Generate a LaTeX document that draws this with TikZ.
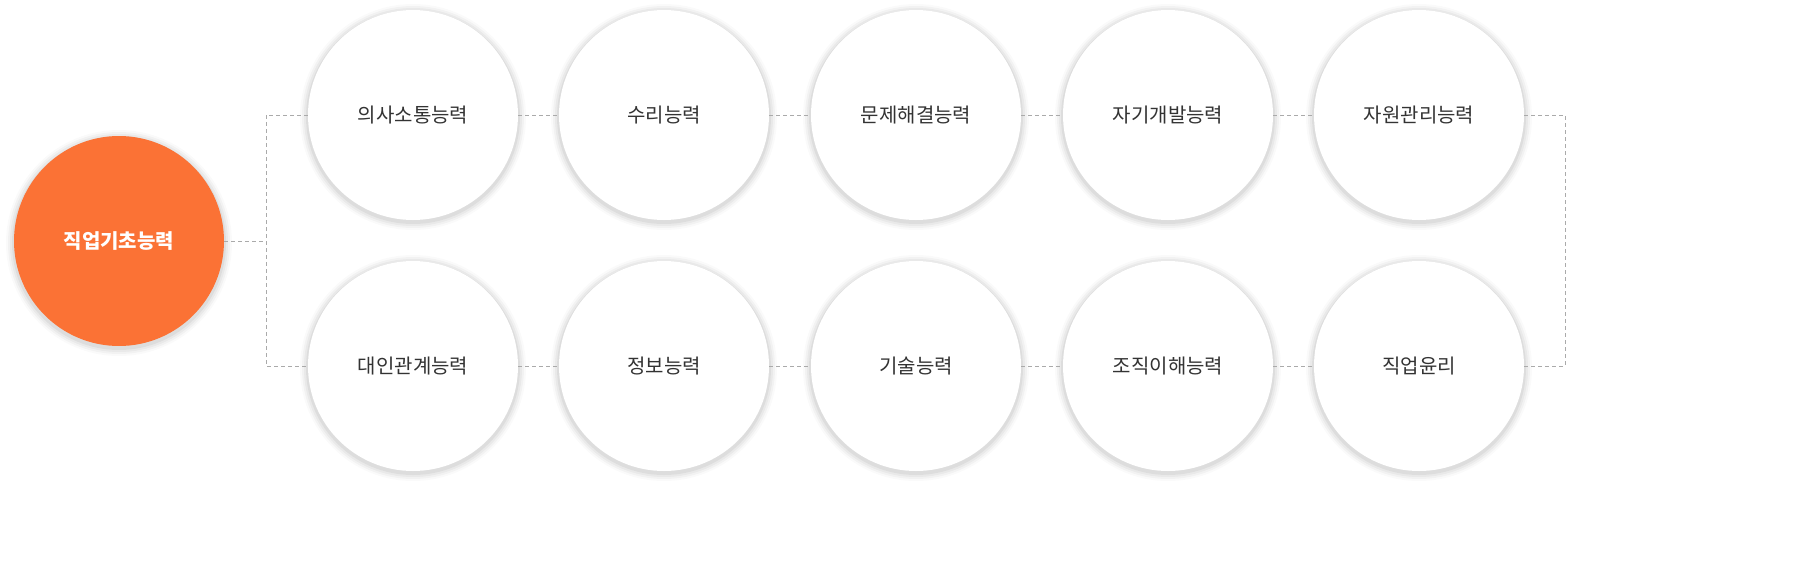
\documentclass[tikz,border=0pt]{standalone}
\usepackage{fontspec}
\newfontfamily\kr{Noto Sans CJK KR}
\definecolor{orng}{HTML}{FB7235}
\definecolor{txt}{HTML}{333333}
\definecolor{dash}{HTML}{AAAAAA}
\begin{document}
\begin{tikzpicture}[x=0.5pt,y=-0.5pt,
  circ/.style={circle,minimum size=105pt,inner sep=0pt,fill=white,font=\kr\fontsize{10}{12}\selectfont,text=txt},
  main/.style={circ,fill=orng,text=white,font=\kr\bfseries\fontsize{10}{12}\selectfont},
  conn/.style={draw=dash,line width=0.5pt,dash pattern=on 2pt off 1.5pt}]
\useasboundingbox (0,0) rectangle (1794,568);
\newcommand{\shad}[2]{%
  \foreach \r/\o in {113/0.02,111/0.03,109/0.04,107/0.05}
    \fill[black,opacity=\o] (#1,#2+2) circle (\r);}
\foreach \x in {119} {\shad{\x}{241}}
\foreach \x in {413,664,916,1168,1419} {\shad{\x}{115}\shad{\x}{366}}
\node[main] (m) at (119,241) {직업기초능력};
\node[circ] (a1) at (413,115) {의사소통능력};
\node[circ] (a2) at (664,115) {수리능력};
\node[circ] (a3) at (916,115) {문제해결능력};
\node[circ] (a4) at (1168,115) {자기개발능력};
\node[circ] (a5) at (1419,115) {자원관리능력};
\node[circ] (b1) at (413,366) {대인관계능력};
\node[circ] (b2) at (664,366) {정보능력};
\node[circ] (b3) at (916,366) {기술능력};
\node[circ] (b4) at (1168,366) {조직이해능력};
\node[circ] (b5) at (1419,366) {직업윤리};
\coordinate (j) at (266,241);
\coordinate (r) at (1565,241);
\draw[conn] (m.east) -- (j);
\draw[conn] (a1.west) -| (j) |- (b1.west);
\draw[conn] (a5.east) -| (r) |- (b5.east);
\draw[conn] (a1)--(a2) (a2)--(a3) (a3)--(a4) (a4)--(a5);
\draw[conn] (b1)--(b2) (b2)--(b3) (b3)--(b4) (b4)--(b5);
\end{tikzpicture}
\end{document}
